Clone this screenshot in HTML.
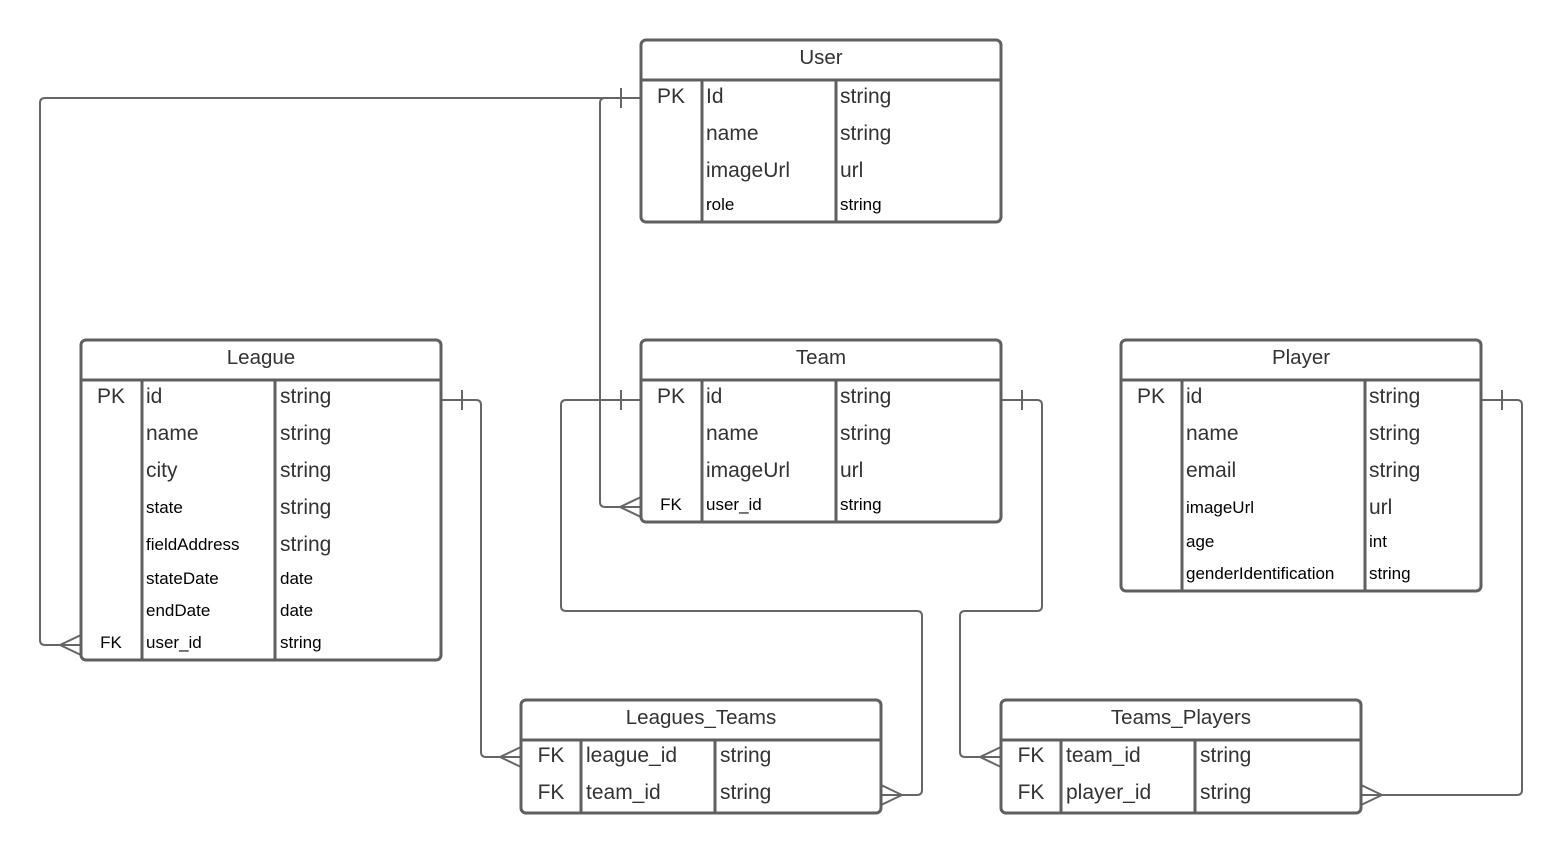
<!DOCTYPE html>
<html><head><meta charset="utf-8"><style>
html,body{margin:0;padding:0;background:#fff;}
svg{display:block;}
text{font-family:"Liberation Sans",Arial,sans-serif;}
.L{font-size:21px;fill:#333;}
.S{font-size:17px;fill:#000;}
.T{font-size:20.5px;fill:#333;}
.box{fill:#fff;stroke:#5f5f5f;stroke-width:3;}
.ln{stroke:#5f5f5f;stroke-width:3;fill:none;}
.cn{stroke:#666;stroke-width:2;fill:none;}
</style></head><body>
<svg width="1563" height="854" viewBox="0 0 1563 854" xmlns="http://www.w3.org/2000/svg">
<path class="cn" d="M641,98 H45 Q40,98 40,103 V640 Q40,645 45,645 H81"/>
<path class="cn" d="M60,645 L81,635 M60,645 L81,655"/>
<line class="cn" x1="621" y1="88" x2="621" y2="108"/>
<path class="cn" d="M620,98 H605 Q600,98 600,103 V502 Q600,507 605,507 H641"/>
<path class="cn" d="M620,507 L641,497 M620,507 L641,517"/>
<path class="cn" d="M441,400 H476 Q481,400 481,405 V752 Q481,757 486,757 H521"/>
<line class="cn" x1="462" y1="390" x2="462" y2="410"/>
<path class="cn" d="M500,757 L521,747 M500,757 L521,767"/>
<path class="cn" d="M641,400 H566 Q561,400 561,405 V606 Q561,611 566,611 H917 Q922,611 922,616 V790 Q922,795 917,795 H881"/>
<line class="cn" x1="621" y1="390" x2="621" y2="410"/>
<path class="cn" d="M902,795 L881,785 M902,795 L881,805"/>
<path class="cn" d="M1001,400 H1037 Q1042,400 1042,405 V606 Q1042,611 1037,611 H965 Q960,611 960,616 V752 Q960,757 965,757 H1001"/>
<line class="cn" x1="1022" y1="390" x2="1022" y2="410"/>
<path class="cn" d="M980,757 L1001,747 M980,757 L1001,767"/>
<path class="cn" d="M1481,400 H1517 Q1522,400 1522,405 V790 Q1522,795 1517,795 H1361"/>
<line class="cn" x1="1502" y1="390" x2="1502" y2="410"/>
<path class="cn" d="M1382,795 L1361,785 M1382,795 L1361,805"/>

<rect class="box" x="641" y="40" width="360" height="182" rx="5"/>
<line class="ln" x1="641" y1="80" x2="1001" y2="80"/>
<line class="ln" x1="702" y1="80" x2="702" y2="222"/>
<line class="ln" x1="836" y1="80" x2="836" y2="222"/>
<text class="T" x="821" y="64" text-anchor="middle">User</text>
<text class="L" x="671" y="103" text-anchor="middle">PK</text>
<text class="L" x="706" y="103">Id</text><text class="L" x="840" y="103">string</text>
<text class="L" x="706" y="140">name</text><text class="L" x="840" y="140">string</text>
<text class="L" x="706" y="177">imageUrl</text><text class="L" x="840" y="177">url</text>
<text class="S" x="706" y="210">role</text><text class="S" x="840" y="210">string</text>

<rect class="box" x="81" y="340" width="360" height="320" rx="5"/>
<line class="ln" x1="81" y1="380" x2="441" y2="380"/>
<line class="ln" x1="142" y1="380" x2="142" y2="660"/>
<line class="ln" x1="275" y1="380" x2="275" y2="660"/>
<text class="T" x="261" y="364" text-anchor="middle">League</text>
<text class="L" x="111" y="403" text-anchor="middle">PK</text>
<text class="L" x="146" y="403">id</text><text class="L" x="280" y="403">string</text>
<text class="L" x="146" y="440">name</text><text class="L" x="280" y="440">string</text>
<text class="L" x="146" y="477">city</text><text class="L" x="280" y="477">string</text>
<text class="S" x="146" y="513">state</text><text class="L" x="280" y="514">string</text>
<text class="S" x="146" y="550">fieldAddress</text><text class="L" x="280" y="551">string</text>
<text class="S" x="146" y="584">stateDate</text><text class="S" x="280" y="584">date</text>
<text class="S" x="146" y="616">endDate</text><text class="S" x="280" y="616">date</text>
<text class="S" x="111" y="648" text-anchor="middle">FK</text>
<text class="S" x="146" y="648">user_id</text><text class="S" x="280" y="648">string</text>

<rect class="box" x="641" y="340" width="360" height="182" rx="5"/>
<line class="ln" x1="641" y1="380" x2="1001" y2="380"/>
<line class="ln" x1="702" y1="380" x2="702" y2="522"/>
<line class="ln" x1="836" y1="380" x2="836" y2="522"/>
<text class="T" x="821" y="364" text-anchor="middle">Team</text>
<text class="L" x="671" y="403" text-anchor="middle">PK</text>
<text class="L" x="706" y="403">id</text><text class="L" x="840" y="403">string</text>
<text class="L" x="706" y="440">name</text><text class="L" x="840" y="440">string</text>
<text class="L" x="706" y="477">imageUrl</text><text class="L" x="840" y="477">url</text>
<text class="S" x="671" y="510" text-anchor="middle">FK</text>
<text class="S" x="706" y="510">user_id</text><text class="S" x="840" y="510">string</text>

<rect class="box" x="1121" y="340" width="360" height="251" rx="5"/>
<line class="ln" x1="1121" y1="380" x2="1481" y2="380"/>
<line class="ln" x1="1182" y1="380" x2="1182" y2="591"/>
<line class="ln" x1="1365" y1="380" x2="1365" y2="591"/>
<text class="T" x="1301" y="364" text-anchor="middle">Player</text>
<text class="L" x="1151" y="403" text-anchor="middle">PK</text>
<text class="L" x="1186" y="403">id</text><text class="L" x="1369" y="403">string</text>
<text class="L" x="1186" y="440">name</text><text class="L" x="1369" y="440">string</text>
<text class="L" x="1186" y="477">email</text><text class="L" x="1369" y="477">string</text>
<text class="S" x="1186" y="513">imageUrl</text><text class="L" x="1369" y="514">url</text>
<text class="S" x="1186" y="547">age</text><text class="S" x="1369" y="547">int</text>
<text class="S" x="1186" y="579">genderIdentification</text><text class="S" x="1369" y="579">string</text>

<rect class="box" x="521" y="700" width="360" height="113" rx="5"/>
<line class="ln" x1="521" y1="740" x2="881" y2="740"/>
<line class="ln" x1="581" y1="740" x2="581" y2="813"/>
<line class="ln" x1="715" y1="740" x2="715" y2="813"/>
<text class="T" x="701" y="724" text-anchor="middle">Leagues_Teams</text>
<text class="L" x="551" y="762" text-anchor="middle">FK</text>
<text class="L" x="586" y="762">league_id</text><text class="L" x="720" y="762">string</text>
<text class="L" x="551" y="799" text-anchor="middle">FK</text>
<text class="L" x="586" y="799">team_id</text><text class="L" x="720" y="799">string</text>

<rect class="box" x="1001" y="700" width="360" height="113" rx="5"/>
<line class="ln" x1="1001" y1="740" x2="1361" y2="740"/>
<line class="ln" x1="1061" y1="740" x2="1061" y2="813"/>
<line class="ln" x1="1195" y1="740" x2="1195" y2="813"/>
<text class="T" x="1181" y="724" text-anchor="middle">Teams_Players</text>
<text class="L" x="1031" y="762" text-anchor="middle">FK</text>
<text class="L" x="1066" y="762">team_id</text><text class="L" x="1200" y="762">string</text>
<text class="L" x="1031" y="799" text-anchor="middle">FK</text>
<text class="L" x="1066" y="799">player_id</text><text class="L" x="1200" y="799">string</text>
</svg>
</body></html>
